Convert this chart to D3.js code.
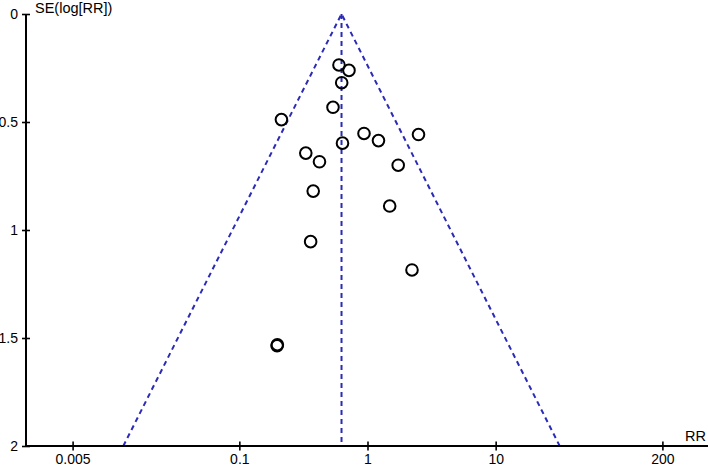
<!DOCTYPE html>
<html>
<head>
<meta charset="utf-8">
<script src="https://cdn.jsdelivr.net/npm/d3@7"></script>
<style>
  html, body { margin: 0; padding: 0; background: #fff; }
  svg { display: block; }
  text { font-family: "Liberation Sans", Arial, sans-serif; }
</style>
</head>
<body>
<svg id="chart" width="708" height="467"></svg>
<script>
// Data
const studyRR = [0.599, 0.717, 0.629, 0.538, 0.213, 0.939, 1.218, 2.50, 0.638, 0.330, 0.422, 1.736, 0.377, 1.490, 0.360, 2.224, 0.197, 0.198];
const studySE = [0.236, 0.261, 0.318, 0.432, 0.489, 0.553, 0.586, 0.558, 0.598, 0.644, 0.684, 0.700, 0.820, 0.889, 1.054, 1.185, 1.536, 1.531];
const pooledRR = 0.627;
const xTicks = [0.005, 0.1, 1, 10, 200];
const xTickLabels = ["0.005", "0.1", "1", "10", "200"];
const yTicks = [0, 0.5, 1, 1.5, 2];
const yTickLabels = ["0", "0.5", "1", "1.5", "2"];
const xTitle = "RR";
const yTitle = "SE(log[RR])";

const svg = d3.select("#chart");
const W = 708, H = 467;
const axisX = 26, axisY = 446;

const x = d3.scaleLog().domain([0.005, 200]).range([72.6, 662.4]);
const y = d3.scaleLinear().domain([0, 2]).range([14, 446]);

const blue = "#2b2bb8";

// Funnel (pseudo 95% limits)
const seMax = 2;
const funnel = [
  [pooledRR * Math.exp(-1.96 * seMax), seMax],
  [pooledRR, 0],
  [pooledRR * Math.exp(1.96 * seMax), seMax]
];
svg.append("path")
  .attr("d", d3.line().x(d => x(d[0])).y(d => y(d[1]))(funnel))
  .attr("fill", "none")
  .attr("stroke", blue)
  .attr("stroke-width", 2)
  .attr("stroke-dasharray", "5,4");

svg.append("line")
  .attr("x1", x(pooledRR)).attr("x2", x(pooledRR))
  .attr("y1", y(0)).attr("y2", y(seMax))
  .attr("stroke", blue)
  .attr("stroke-width", 2)
  .attr("stroke-dasharray", "5,4");

// Points
const pts = studyRR.map((r, i) => ({ rr: r, se: studySE[i] }));
svg.append("g").selectAll("circle")
  .data(pts)
  .join("circle")
  .attr("cx", d => x(d.rr))
  .attr("cy", d => y(d.se))
  .attr("r", 5.8)
  .attr("fill", "none")
  .attr("stroke", "#000")
  .attr("stroke-width", 2);

// X axis
const gx = svg.append("g").attr("transform", `translate(0,${axisY})`);
gx.call(d3.axisBottom(x).tickValues(xTicks).tickFormat((d, i) => xTickLabels[i]).tickSizeInner(4.5).tickSizeOuter(0).tickPadding(3.5));
gx.select(".domain").remove();
gx.selectAll(".tick line").attr("y1", -4.5).attr("y2", 4.5).attr("stroke", "#000").attr("stroke-width", 1.6);
gx.selectAll(".tick text").attr("font-size", 14).attr("font-family", "Liberation Sans, Arial, sans-serif").attr("fill", "#000");
svg.append("line")
  .attr("x1", axisX).attr("x2", W)
  .attr("y1", axisY).attr("y2", axisY)
  .attr("stroke", "#000").attr("stroke-width", 2);

// Y axis
const gy = svg.append("g").attr("transform", `translate(${axisX},0)`);
gy.call(d3.axisLeft(y).tickValues(yTicks).tickFormat((d, i) => yTickLabels[i]).tickSizeInner(4).tickSizeOuter(0).tickPadding(4));
gy.select(".domain").remove();
gy.selectAll(".tick line").attr("x1", -4).attr("x2", 4).attr("stroke", "#000").attr("stroke-width", 1.6);
gy.selectAll(".tick text").attr("font-size", 14).attr("font-family", "Liberation Sans, Arial, sans-serif").attr("fill", "#000");
svg.append("line")
  .attr("x1", axisX).attr("x2", axisX)
  .attr("y1", y(0)).attr("y2", axisY)
  .attr("stroke", "#000").attr("stroke-width", 2);

// Titles
svg.append("text")
  .attr("x", 35).attr("y", 12.5)
  .attr("font-size", 14.5)
  .attr("fill", "#000")
  .text(yTitle);
svg.append("text")
  .attr("x", 706).attr("y", 441)
  .attr("text-anchor", "end")
  .attr("font-size", 14.5)
  .attr("fill", "#000")
  .text(xTitle);
</script>
</body>
</html>
